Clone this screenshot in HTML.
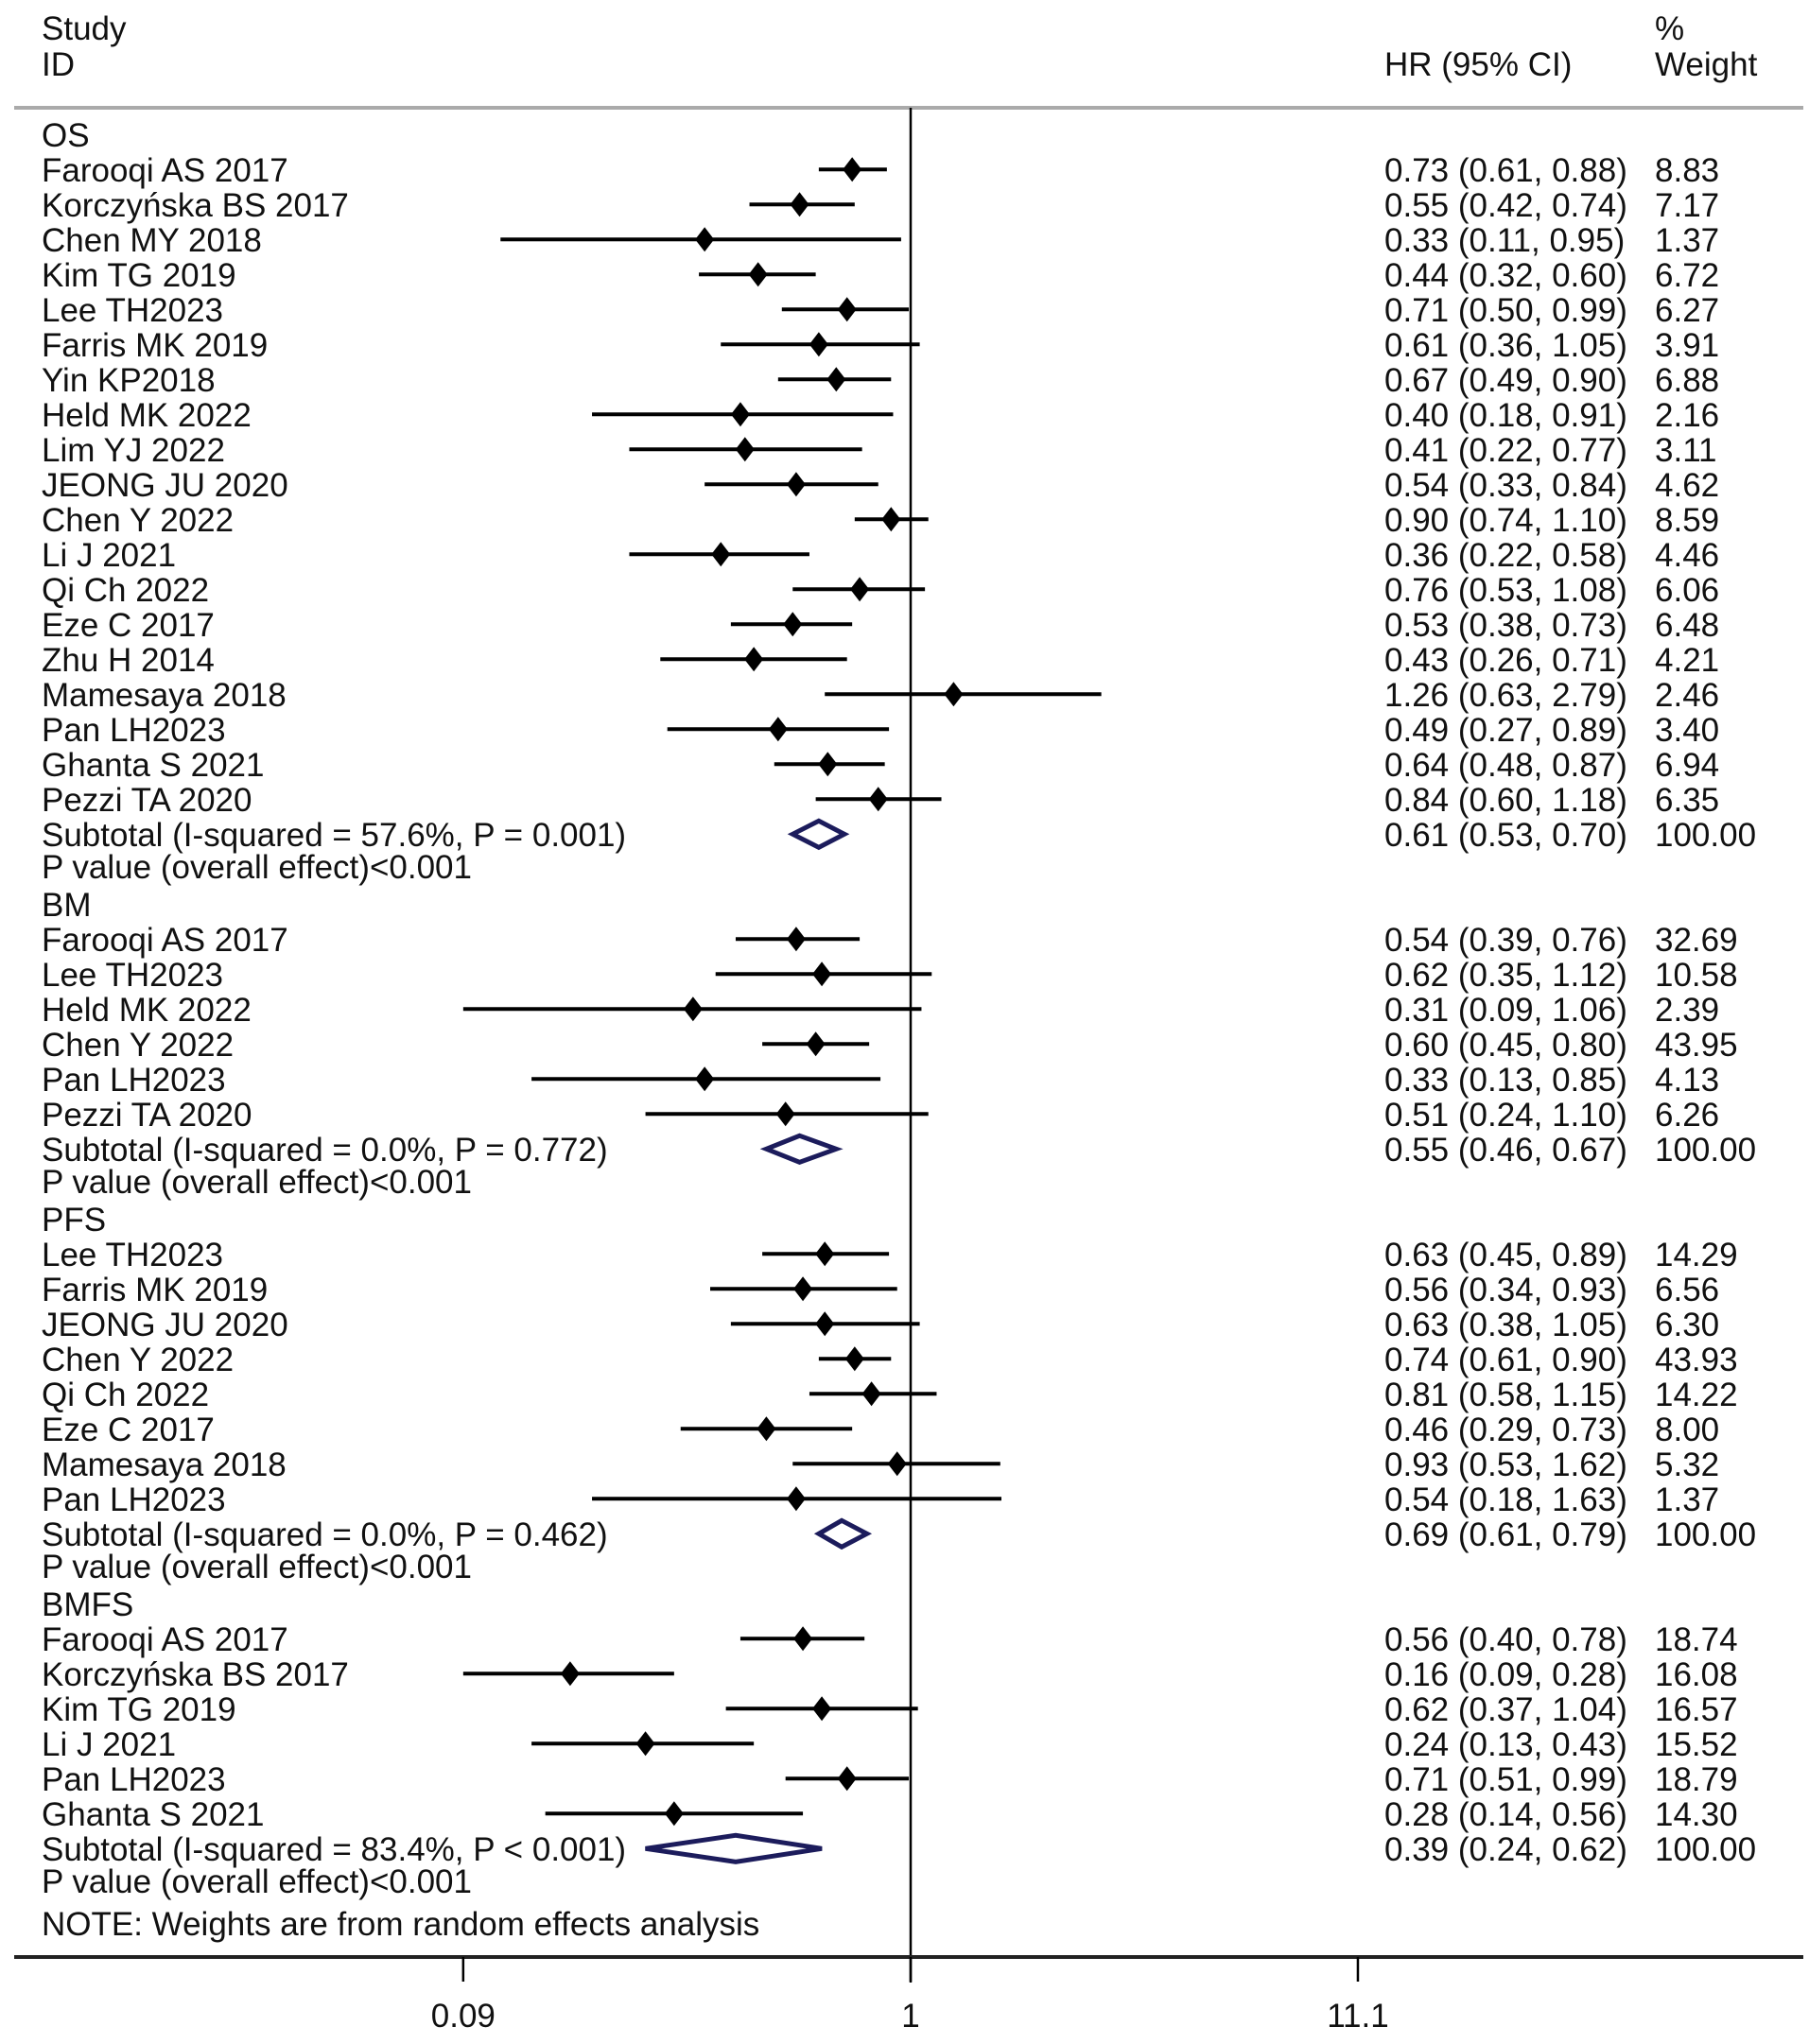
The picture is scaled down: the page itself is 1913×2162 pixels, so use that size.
<!DOCTYPE html>
<html><head><meta charset="utf-8"><style>
html,body{margin:0;padding:0;background:#fff;}
svg{display:block;}
text{font-family:"Liberation Sans","Noto Sans CJK SC",sans-serif;font-size:35px;fill:#111;}
</style></head><body>
<svg id="chart" width="1913" height="2162" viewBox="0 0 1913 2162" xmlns="http://www.w3.org/2000/svg">
<rect width="1913" height="2162" fill="#fff"/>
<text x="44" y="42">Study</text>
<text x="44" y="80">ID</text>
<text x="1464" y="80">HR (95% CI)</text>
<text x="1750" y="42">%</text>
<text x="1750" y="80">Weight</text>
<line x1="15" y1="114" x2="1907" y2="114" stroke="#aaa" stroke-width="4"/>
<line x1="963" y1="114" x2="963" y2="2097" stroke="#000" stroke-width="2.5"/>
<line x1="15" y1="2070" x2="1907" y2="2070" stroke="#222" stroke-width="4"/>
<g id="rows"></g>
<g id="axis"></g>
</svg>
<script>
// row types: h=header, s=study, t=subtotal, p=pvalue, n=note
const rowTypes = ["h","s","s","s","s","s","s","s","s","s","s","s","s","s","s","s","s","s","s","s","t","p",
"h","s","s","s","s","s","s","t","p",
"h","s","s","s","s","s","s","s","s","t","p",
"h","s","s","s","s","s","s","t","p","n"];
const labels = ["OS","Farooqi AS 2017","Korczyńska BS 2017","Chen MY 2018","Kim TG 2019","Lee TH2023","Farris MK 2019","Yin KP2018","Held MK 2022","Lim YJ 2022","JEONG JU 2020","Chen Y 2022","Li J 2021","Qi Ch 2022","Eze C 2017","Zhu H 2014","Mamesaya 2018","Pan LH2023","Ghanta S 2021","Pezzi TA 2020","Subtotal  (I-squared = 57.6%, P = 0.001)","P value (overall effect)<0.001",
"BM","Farooqi AS 2017","Lee TH2023","Held MK 2022","Chen Y 2022","Pan LH2023","Pezzi TA 2020","Subtotal  (I-squared = 0.0%, P = 0.772)","P value (overall effect)<0.001",
"PFS","Lee TH2023","Farris MK 2019","JEONG JU 2020","Chen Y 2022","Qi Ch 2022","Eze C 2017","Mamesaya 2018","Pan LH2023","Subtotal  (I-squared = 0.0%, P = 0.462)","P value (overall effect)<0.001",
"BMFS","Farooqi AS 2017","Korczyńska BS 2017","Kim TG 2019","Li J 2021","Pan LH2023","Ghanta S 2021","Subtotal  (I-squared = 83.4%, P < 0.001)","P value (overall effect)<0.001","NOTE: Weights are from random effects analysis"];
const hr = [null,0.73,0.55,0.33,0.44,0.71,0.61,0.67,0.40,0.41,0.54,0.90,0.36,0.76,0.53,0.43,1.26,0.49,0.64,0.84,0.61,null,
null,0.54,0.62,0.31,0.60,0.33,0.51,0.55,null,
null,0.63,0.56,0.63,0.74,0.81,0.46,0.93,0.54,0.69,null,
null,0.56,0.16,0.62,0.24,0.71,0.28,0.39,null,null];
const lo = [null,0.61,0.42,0.11,0.32,0.50,0.36,0.49,0.18,0.22,0.33,0.74,0.22,0.53,0.38,0.26,0.63,0.27,0.48,0.60,0.53,null,
null,0.39,0.35,0.09,0.45,0.13,0.24,0.46,null,
null,0.45,0.34,0.38,0.61,0.58,0.29,0.53,0.18,0.61,null,
null,0.40,0.09,0.37,0.13,0.51,0.14,0.24,null,null];
const hi = [null,0.88,0.74,0.95,0.60,0.99,1.05,0.90,0.91,0.77,0.84,1.10,0.58,1.08,0.73,0.71,2.79,0.89,0.87,1.18,0.70,null,
null,0.76,1.12,1.06,0.80,0.85,1.10,0.67,null,
null,0.89,0.93,1.05,0.90,1.15,0.73,1.62,1.63,0.79,null,
null,0.78,0.28,1.04,0.43,0.99,0.56,0.62,null,null];
const weights = [null,"8.83","7.17","1.37","6.72","6.27","3.91","6.88","2.16","3.11","4.62","8.59","4.46","6.06","6.48","4.21","2.46","3.40","6.94","6.35","100.00",null,
null,"32.69","10.58","2.39","43.95","4.13","6.26","100.00",null,
null,"14.29","6.56","6.30","43.93","14.22","8.00","5.32","1.37","100.00",null,
null,"18.74","16.08","16.57","15.52","18.79","14.30","100.00",null,null];
const tickValues = [0.09,1,11.1];
const tickLabels = ["0.09","1","11.1"];

const NS="http://www.w3.org/2000/svg";
const X0=963, PX=196.5, Y0=142.3, DY=37.0;
function xs(v){return X0+PX*Math.log(v);}
function ys(i){return Y0+DY*i;}
function mk(tag,attrs,parent){const e=document.createElementNS(NS,tag);for(const k in attrs)e.setAttribute(k,attrs[k]);parent.appendChild(e);return e;}
const g=document.getElementById('rows');
const f2=v=>v.toFixed(2);
rowTypes.forEach((t,i)=>{
  let y=ys(i);
  if(t==="p") y-=3;
  if(t==="n") y+=5;
  const lab=mk('text',{x:44,y:y+12.5},g);
  lab.textContent=labels[i];
  
  
  if(hr[i]==null) return;
  const ci=mk('text',{x:1464,y:y+12.5},g);
  ci.textContent=f2(hr[i])+" ("+f2(lo[i])+", "+f2(hi[i])+")";
  
  
  const w=mk('text',{x:1750,y:y+12.5},g);
  w.textContent=weights[i];
  
  
  const xl=xs(lo[i]), xh=xs(hi[i]), xc=xs(hr[i]);
  if(t==="s"){
    const l=mk('line',{x1:xl,y1:y,x2:xh,y2:y,stroke:'#000','stroke-width':4},g);
    
    
    const d=mk('polygon',{points:`${xc-10},${y} ${xc},${y-13} ${xc+10},${y} ${xc},${y+13}`,fill:'#000'},g);
    
    
  } else {
    const d=mk('polygon',{points:`${xl},${y} ${xc},${y-14} ${xh},${y} ${xc},${y+14}`,fill:'none',stroke:'#1c1c5c','stroke-width':5},g);
    
    
  }
});
const ax=document.getElementById('axis');
tickValues.forEach((v,k)=>{
  const x=xs(v);
  const tk=mk('line',{x1:x,y1:2070,x2:x,y2:2096,stroke:'#000','stroke-width':2.5},ax);
  
  
  const tl=mk('text',{x:x,y:2144,'text-anchor':'middle'},ax);
  tl.textContent=tickLabels[k];
  
  
});
</script>
</body></html>
